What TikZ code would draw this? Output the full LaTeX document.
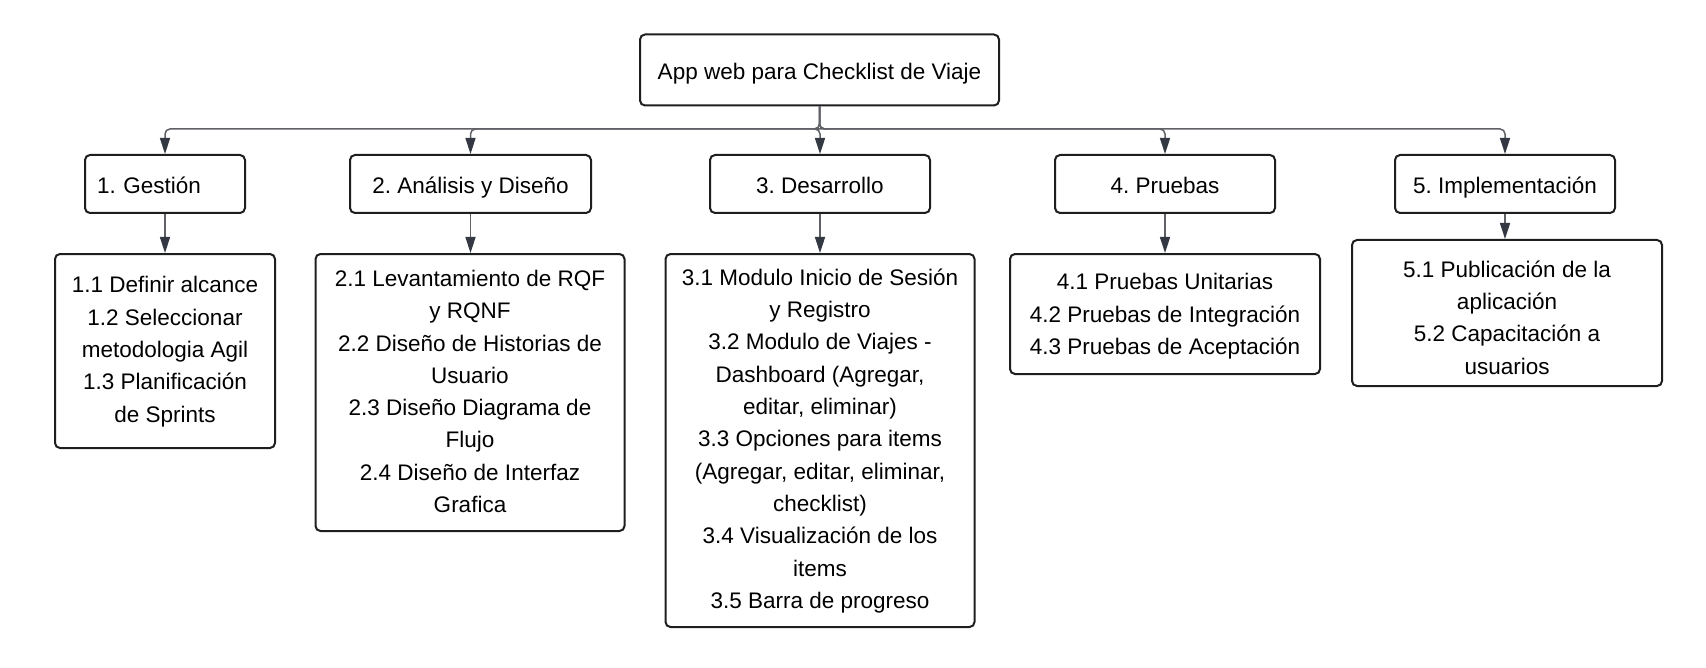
\documentclass[tikz,border=0pt]{standalone}
\usepackage{fontspec}
\setmainfont{Liberation Sans}
\usetikzlibrary{arrows.meta}
\definecolor{boxline}{HTML}{1E1E1E}
\definecolor{edgeline}{HTML}{5F6166}
\definecolor{tipcol}{HTML}{333842}
\frenchspacing

\begin{document}
\begin{tikzpicture}[x=0.5pt,y=-0.5pt,
  font=\fontsize{11.25}{16.15}\selectfont,
  pad/.style={execute at begin node={\rule{0pt}{#1}}},
  box/.style={draw=boxline,line width=1pt,rounded corners=2.5pt,fill=white,inner sep=0pt,align=center},
  phase/.style={box,pad=14.3pt,execute at end node=\strut,minimum width=110pt,minimum height=29pt},
  item/.style={box,text depth=0pt,text height=#1},
  edge/.style={draw=edgeline,line width=0.75pt,rounded corners=2.5pt,-{Triangle[length=8pt,width=5pt,color=tipcol]}}]
\useasboundingbox (0,0) rectangle (1706,668);

% Root
\node[phase,minimum width=179.5pt,minimum height=35.5pt] (root) at (819.5,70) {App web para Checklist de Viaje};

% Phases
\node[phase,text width=68pt,align=left,inner xsep=6pt,minimum width=0pt] (gestion) at (165,184) {1. Gestión};
\node[phase,minimum width=120.5pt] (analisis) at (470.5,184) {2. Análisis y Diseño};
\node[phase] (desarrollo) at (820,184) {3. Desarrollo};
\node[phase] (pruebas) at (1165,184) {4. Pruebas};
\node[phase] (implem) at (1505,184) {5. Implementación};

% Deliverables
\node[item=71pt,minimum width=110pt,minimum height=97pt] (gestionD) at (165,351) {1.1 Definir alcance\\1.2 Seleccionar\\metodologia Agil\\1.3 Planificación\\de Sprints};
\node[item=120pt,minimum width=154.5pt,minimum height=138.5pt] (analisisD) at (470,392.5) {2.1 Levantamiento de RQF\\y RQNF\\2.2 Diseño de Historias de\\Usuario\\2.3 Diseño Diagrama de\\Flujo\\2.4 Diseño de Interfaz\\Grafica};
\node[item=167.8pt,minimum width=154.5pt,minimum height=186.5pt] (desarrolloD) at (820,440.5) {3.1 Modulo Inicio de Sesión\\y Registro\\3.2 Modulo de Viajes -\\Dashboard (Agregar,\\editar, eliminar)\\3.3 Opciones para items\\(Agregar, editar, eliminar,\\checklist)\\3.4 Visualización de los\\items\\3.5 Barra de progreso};
\node[item=40.4pt,minimum width=155pt,minimum height=60pt] (pruebasD) at (1165,314) {4.1 Pruebas Unitarias\\4.2 Pruebas de Integración\\4.3 Pruebas de Aceptación};
\node[item=61pt,minimum width=155pt,minimum height=73pt] (implemD) at (1507,313) {5.1 Publicación de la\\aplicación\\5.2 Capacitación a\\usuarios};

% Connections
\foreach \p in {gestion,analisis,desarrollo,pruebas,implem}
  \draw[edge] (root.south) -- ++(0,-11.25pt) -| (\p.north);
\foreach \p in {gestion,analisis,desarrollo,pruebas,implem}
  \draw[edge] (\p.south) -- (\p D.north -| \p.south);
\end{tikzpicture}
\end{document}
